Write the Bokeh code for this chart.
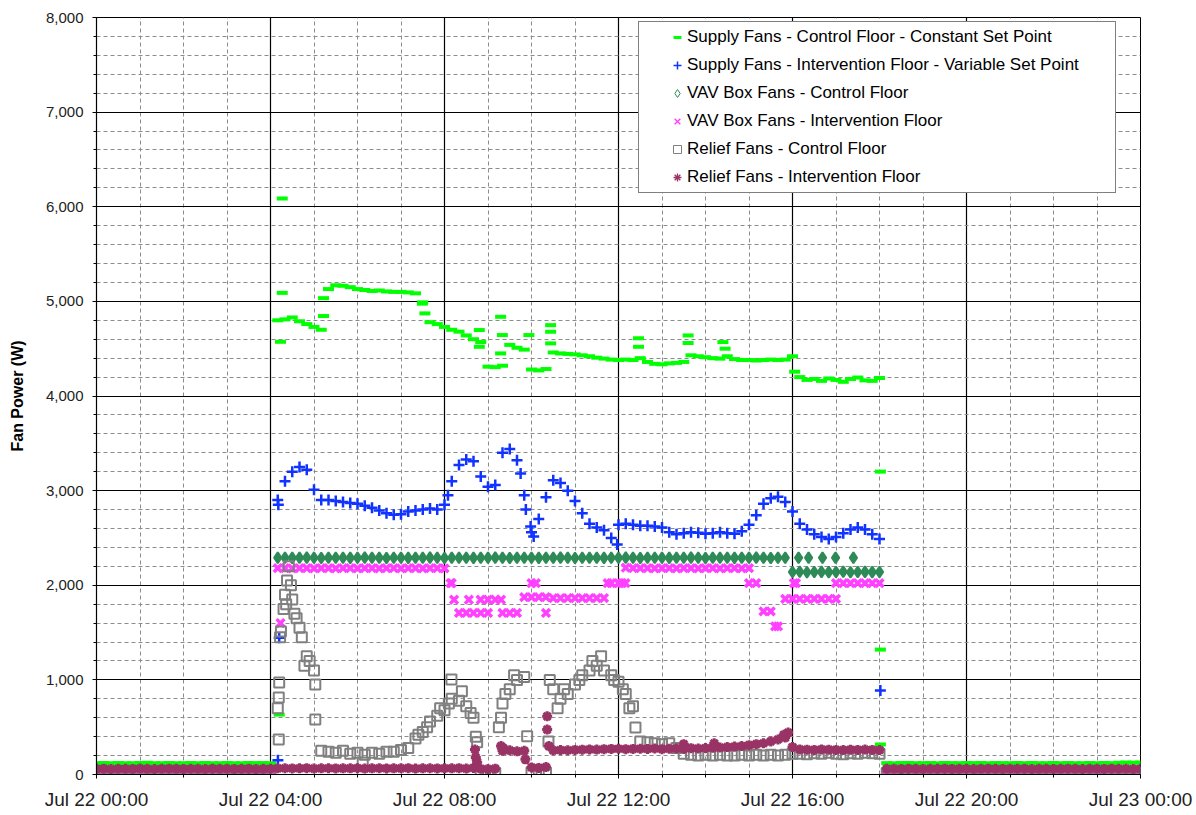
import pandas as pd
from bokeh.plotting import figure
from bokeh.models import (Range1d, FixedTicker, DatetimeTickFormatter, NumeralTickFormatter,
                          Legend, LegendItem, ColumnDataSource)
from bokeh.embed import file_html
from bokeh.resources import INLINE

# ---------------- data (W), read every 10 minutes, Jul 22 00:00 -> Jul 23 00:00 ----------------
DAY = "2008-07-22"
STEP_MIN = 10
X_TICK_HOURS = [0, 4, 8, 12, 16, 20, 24]
Y_TICKS = [0, 1000, 2000, 3000, 4000, 5000, 6000, 7000, 8000]

LABELS = [
    "Supply Fans - Control Floor - Constant Set Point",
    "Supply Fans - Intervention Floor - Variable Set Point",
    "VAV Box Fans - Control Floor",
    "VAV Box Fans - Intervention Floor",
    "Relief Fans - Control Floor",
    "Relief Fans - Intervention Floor",
]

# Supply Fans - Control Floor
supply_ctrl_am = [118, 121, 119, 122, 120, 118, 121, 123, 119, 120, 122, 118, 120, 121, 119, 122, 120, 118, 121, 120,
                  119, 122, 120, 121, 118]
supply_ctrl_day = [4800, 4810, 4830, 4790, 4760, 4730, 4700, 5130, 5170, 5165, 5150, 5130, 5120, 5110, 5115, 5105,
                   5100, 5100, 5095, 5085, 4990, 4780, 4760, 4730, 4700, 4680, 4640, 4600, 4570, 4310, 4305, 4320,
                   4540, 4510, 4490, 4280, 4270, 4285, 4460, 4450, 4445, 4440, 4430, 4420, 4405, 4395, 4385, 4380,
                   4385, 4380, 4400, 4360, 4340, 4335, 4345, 4350, 4360, 4430, 4420, 4410, 4400, 4395, 4420, 4390,
                   4380, 4380, 4375, 4380, 4385, 4380, 4385, 4420, 4200, 4170, 4180, 4160, 4185, 4170, 4150, 4180,
                   4195, 4165, 4160, 4190]
supply_ctrl_pm = [120, 118, 121, 122, 119, 120, 121, 118, 122, 120, 119, 121, 120, 122, 118, 121, 120, 119, 122, 120,
                  121, 118, 120, 122, 119, 121, 120, 118, 122, 120, 121, 119, 125, 128, 124, 126]
supply_ctrl_extra_h = [4.27, 4.27, 4.23, 4.2, 5.22, 5.22, 7.49, 7.55, 8.8, 8.8, 9.29, 9.33, 9.29, 9.94, 10.44, 10.44,
                       10.44, 12.46, 12.46, 13.6, 13.6, 14.4, 14.45, 16.05, 18.02, 18.02, 18.02]
supply_ctrl_extra_w = [6087, 5090, 4573, 633, 4845, 5034, 4976, 4873, 4697, 4520, 4837, 4644, 4450, 4644, 4749, 4679,
                       4556, 4610, 4520, 4640, 4560, 4570, 4500, 4257, 3201, 1320, 317]

# Supply Fans - Intervention Floor
supply_int_am = [32, 28, 30, 31, 29, 30, 33, 28, 30, 31, 29, 32, 30, 28, 31, 30, 29, 32, 30, 31, 28, 30, 29, 31, 30]
supply_int_day = [2900, 3100, 3200, 3250, 3220, 3010, 2900, 2900, 2890, 2880, 2870, 2860, 2840, 2820, 2790, 2760,
                  2745, 2750, 2780, 2790, 2800, 2810, 2800, 2850, 3100, 3270, 3330, 3310, 3150, 3040, 3060, 3400,
                  3440, 3320, 2950, 2560, 2700, 2930, 3110, 3080, 3000, 2890, 2760, 2650, 2610, 2580, 2500, 2640,
                  2650, 2640, 2630, 2630, 2620, 2610, 2560, 2540, 2550, 2560, 2555, 2545, 2550, 2560, 2550, 2545,
                  2570, 2640, 2740, 2860, 2920, 2935, 2880, 2780, 2650, 2590, 2540, 2510, 2490, 2510, 2550, 2590,
                  2610, 2590, 2540, 2490]
supply_int_pm = [30, 31, 29, 32, 30, 28, 31, 30, 29, 32, 30, 31, 28, 30, 29, 31, 30, 32, 28, 30, 31, 29, 30, 32,
                 28, 30, 31, 29, 30, 32, 30, 28, 31, 30, 29, 31]
supply_int_extra_h = [4.18, 4.2, 4.17, 18.02, 9.98, 10.05, 11.97, 8.08, 9.75, 9.87]
supply_int_extra_w = [2850, 1446, 150, 887, 2620, 2515, 2430, 2950, 3180, 2800]

# VAV Box Fans - Control Floor
vav_ctrl_am = [4, 5, 3, 4, 6, 5, 4, 3, 5, 4, 6, 4, 5, 3, 4, 5, 4, 6, 3, 5, 4, 4, 5, 3, 4]
vav_ctrl_day = [2290, 2291, 2289, 2290, 2292, 2290, 2288, 2290, 2291, 2290, 2289, 2290, 2292, 2290, 2290, 2288,
                2291, 2290, 2289, 2290, 2290, 2292, 2290, 2288, 2290, 2291, 2290, 2289, 2290, 2290, 2292, 2290,
                2288, 2290, 2291, 2290, 2289, 2290, 2290, 2292, 2290, 2288, 2290, 2291, 2290, 2289, 2290, 2290,
                2292, 2290, 2288, 2290, 2291, 2290, 2289, 2290, 2290, 2292, 2290, 2288, 2290, 2291, 2290, 2289,
                2290, 2290, 2292, 2290, 2288, 2290, 2291, 2140, 2142, 2138, 2140, 2141, 2139, 2140, 2142, 2138,
                2140, 2141, 2139, 2140]
vav_ctrl_pm = [5, 4, 3, 5, 4, 6, 4, 5, 3, 4, 5, 4, 6, 3, 5, 4, 4, 5, 3, 4, 5, 4, 6, 4, 5, 3, 4, 5, 4, 6, 3, 5,
               4, 4, 5, 3]
vav_ctrl_extra_h = [16.14, 16.37, 16.69, 16.99, 17.4]
vav_ctrl_extra_w = [2290, 2290, 2290, 2290, 2290]

# VAV Box Fans - Intervention Floor
vav_int_am = [0, 1, 0, 0, 1, 0, 0, 0, 1, 0, 0, 1, 0, 0, 0, 1, 0, 0, 1, 0, 0, 0, 1, 0, 0]
vav_int_day = [2180, 2182, 2178, 2180, 2181, 2179, 2180, 2182, 2178, 2180, 2181, 2179, 2180, 2182, 2178, 2180,
               2181, 2179, 2180, 2182, 2178, 2180, 2181, 2179, 2023, 1707, 1707, 1707, 1707, 1847, 1847, 1707,
               1707, 1707, 1875, 1875, 1875, 1707, 1865, 1865, 1865, 1865, 1865, 1865, 1865, 1865, 2023, 2023,
               2185, 2182, 2180, 2181, 2179, 2180, 2182, 2178, 2180, 2181, 2179, 2180, 2182, 2178, 2180, 2181,
               2179, 2180, 2023, 1724, 1724, 1565, 1855, 1855, 1855, 1855, 1855, 1855, 1855, 2023, 2023, 2023,
               2023, 2023, 2023, 2023]
vav_int_pm = [0, 0, 1, 0, 0, 1, 0, 0, 0, 1, 0, 0, 1, 0, 0, 0, 1, 0, 0, 1, 0, 0, 0, 1, 0, 0, 1, 0, 0, 0, 1, 0,
              0, 1, 0, 0]
vav_int_extra_h = [4.23, 8.22, 8.56, 8.83, 9.0, 9.3, 10.0, 10.1, 10.33, 11.75, 12.08, 12.16, 15.0, 15.6, 16.03,
                   16.08, 17.0, 8.14]
vav_int_extra_w = [1601, 1847, 1847, 1847, 1707, 1847, 2023, 2023, 1875, 2023, 2023, 2023, 2023, 1565, 2023,
                   2023, 1855, 2023]

# Relief Fans - Control Floor
relief_ctrl_am = [15, 18, 14, 16, 15, 17, 13, 15, 16, 14, 18, 15, 16, 14, 15, 17, 15, 13, 16, 15, 14, 17, 15, 16, 15]
relief_ctrl_day = [700, 1900, 1850, 1550, 1250, 1100, 250, 240, 230, 250, 220, 230, 210, 230, 220, 240,
                   240, 260, 280, 380, 450, 560, 620, 680, 800, 780, 720, 600, 20, 10, 15, 750,
                   900, 1000, 1030, 20, 15, 20, 900, 800, 850, 950, 1050, 1100, 1150, 1100, 1050, 980,
                   850, 720, 350, 340, 330, 320, 330, 280, 220, 210, 200, 210, 200, 210, 200, 200,
                   210, 200, 210, 200, 210, 200, 210, 220, 220, 215, 225, 220, 230, 220, 215, 225,
                   220, 230, 225, 220]
relief_ctrl_pm = [16, 15, 14, 17, 15, 16, 13, 15, 18, 14, 15, 16, 15, 17, 14, 15, 16, 15, 13, 17, 15, 14, 16, 15,
                  18, 15, 14, 16, 15, 17, 15, 14, 16, 15, 17, 15]
relief_ctrl_extra_h = [4.19, 4.19, 4.2, 4.22, 4.24, 4.3, 4.38, 4.42, 4.36, 4.47, 4.55, 4.6, 4.72, 4.78, 4.9, 5.03,
                       5.03, 6.12, 8.16, 8.72, 8.75, 9.25, 9.3, 9.4, 9.6, 9.9, 10.39, 10.42, 10.6, 10.75, 11.1,
                       11.4, 11.6, 11.9, 12.1, 12.39, 12.25, 7.4, 7.6, 7.9, 8.1, 8.4, 8.6]
relief_ctrl_extra_w = [369, 813, 971, 1450, 1512, 1750, 2050, 2200, 1800, 2000, 1700, 1650, 1450, 1150, 1200, 950,
                       580, 127, 1003, 400, 340, 500, 600, 850, 1050, 404, 348, 1000, 700, 900, 1000,
                       1200, 1250, 1000, 900, 496, 700, 420, 500, 700, 750, 880, 650]

# Relief Fans - Intervention Floor
relief_int_am = [60, 62, 58, 61, 60, 59, 63, 60, 58, 61, 62, 60, 59, 61, 60, 58, 62, 60, 61, 59, 60, 62, 58, 60, 61]
relief_int_day = [65, 66, 64, 65, 67, 63, 65, 66, 64, 65, 65, 67, 63, 65, 66, 64, 65, 65, 67, 63, 65, 66, 64, 65,
                  65, 67, 63, 70, 60, 58, 62, 250, 255, 245, 250, 75, 70, 78, 255, 258, 256, 260, 262, 265,
                  263, 268, 270, 272, 268, 270, 272, 270, 275, 268, 272, 275, 270, 278, 275, 280, 282, 285,
                  290, 295, 300, 310, 320, 330, 350, 370, 390, 290, 265, 262, 260, 265, 262, 260, 258, 262,
                  260, 263, 260, 258]
relief_int_pm = [60, 61, 59, 62, 60, 58, 61, 60, 62, 59, 60, 61, 58, 60, 62, 60, 59, 61, 60, 62, 58, 60, 61, 59,
                 60, 62, 60, 58, 61, 60, 59, 62, 60, 61, 58, 60]
relief_int_extra_h = [8.7, 8.72, 8.75, 9.3, 9.35, 9.86, 10.36, 10.36, 10.4, 15.9, 15.8, 13.5, 14.2]
relief_int_extra_w = [264, 180, 130, 300, 280, 160, 615, 475, 300, 443, 420, 320, 330]

# ---------------- build ----------------
t0 = pd.Timestamp(DAY)


def make_source(am, day, pm, eh, ew):
    vals = am + day + pm
    times = [t0 + pd.Timedelta(minutes=STEP_MIN * i) for i in range(len(vals))]
    times += [t0 + pd.Timedelta(hours=h) for h in eh]
    return ColumnDataSource(dict(t=times, w=vals + ew))


series = [
    (supply_ctrl_am, supply_ctrl_day, supply_ctrl_pm, supply_ctrl_extra_h, supply_ctrl_extra_w),
    (supply_int_am, supply_int_day, supply_int_pm, supply_int_extra_h, supply_int_extra_w),
    (vav_ctrl_am, vav_ctrl_day, vav_ctrl_pm, vav_ctrl_extra_h, vav_ctrl_extra_w),
    (vav_int_am, vav_int_day, vav_int_pm, vav_int_extra_h, vav_int_extra_w),
    (relief_ctrl_am, relief_ctrl_day, relief_ctrl_pm, relief_ctrl_extra_h, relief_ctrl_extra_w),
    (relief_int_am, relief_int_day, relief_int_pm, relief_int_extra_h, relief_int_extra_w),
]

COLORS = ["#00FF00", "#1133FF", "#2E8B57", "#FF40FF", "#808080", "#993366"]
MARKERS = ["dash", "cross", "diamond", "x", "square", "asterisk"]
# plotted marks (dense, overlapping like the original 1-minute data)
plot_styles = [
    dict(size=11, line_width=4),
    dict(size=11, line_width=2.5),
    dict(size=11, line_width=2, fill_color="#2E8B57"),
    dict(size=11, line_width=3.5),
    dict(size=10, line_width=2, fill_color=None),
    dict(size=10, line_width=3),
]
# legend swatches (thin, small, like the original key)
legend_styles = [
    dict(line_width=3),
    dict(line_width=1.5),
    dict(line_width=1, fill_color=None),
    dict(line_width=1.5),
    dict(line_width=1, fill_color=None),
    dict(line_width=1.3),
]

x_start = t0
x_end = t0 + pd.Timedelta(hours=24)

p = figure(width=1192, height=812, x_axis_type="datetime", output_backend="svg", toolbar_location=None,
           x_range=Range1d(x_start, x_end), y_range=Range1d(0, 8000),
           min_border_left=96, min_border_right=52, min_border_top=17, min_border_bottom=37)
p.background_fill_color = "white"
p.border_fill_color = "white"
p.outline_line_color = "black"
p.outline_line_width = 1

ms = lambda h: (t0 + pd.Timedelta(hours=h)).value / 1e6
x_ticker = FixedTicker(ticks=[ms(h) for h in X_TICK_HOURS],
                       minor_ticks=[ms(h) for h in range(25) if h % 4 != 0])
y_ticker = FixedTicker(ticks=Y_TICKS, minor_ticks=[v for v in range(0, 8001, 200) if v % 1000 != 0])

p.xaxis.ticker = x_ticker
p.yaxis.ticker = y_ticker
p.xgrid.ticker = x_ticker
p.ygrid.ticker = y_ticker
fmt = "%b %d %H:%M"
p.xaxis.formatter = DatetimeTickFormatter(hours=fmt, hourmin=fmt, days=fmt, minutes=fmt, months=fmt,
                                          minsec=fmt, seconds=fmt)
p.yaxis.formatter = NumeralTickFormatter(format="0,0")

for g in (p.xgrid, p.ygrid):
    g.grid_line_color = "black"
    g.grid_line_width = 1.2
    g.minor_grid_line_color = "#8c8c8c"
    g.minor_grid_line_dash = "4 3"
    g.minor_grid_line_width = 1

for ax in (p.xaxis, p.yaxis):
    ax.axis_line_color = "black"
    ax.axis_line_width = 1.2
    ax.major_tick_line_color = "black"
    ax.minor_tick_line_color = "black"
    ax.major_tick_out = 4
    ax.major_tick_in = 0
    ax.minor_tick_out = 3
    ax.minor_tick_in = 0
    ax.major_label_text_font = "Liberation Sans"
    ax.major_label_text_color = "#222222"

p.xaxis.major_label_text_font_size = "19px"
p.yaxis.major_label_text_font_size = "15px"
p.xaxis.major_label_standoff = 10
p.yaxis.major_label_standoff = 9
p.yaxis.axis_label = "Fan Power (W)"
p.yaxis.axis_label_text_font = "Liberation Sans"
p.yaxis.axis_label_text_font_size = "16px"
p.yaxis.axis_label_text_font_style = "bold"
p.yaxis.axis_label_text_color = "black"
p.yaxis.axis_label_standoff = 17

items = []
for (am, day, pm, eh, ew), col, mk, pst, lst, lab in zip(series, COLORS, MARKERS, plot_styles, legend_styles, LABELS):
    src = make_source(am, day, pm, eh, ew)
    p.scatter(x="t", y="w", source=src, marker=mk, line_color=col, **pst)
    # hidden twin of the same data, used only to draw the thin legend swatch
    key = p.scatter(x="t", y="w", source=src, marker=mk, line_color=col, visible=False, **lst)
    items.append(LegendItem(label=lab, renderers=[key]))

legend = Legend(items=items, location=(542, 581), padding=5, spacing=8, margin=0,
                title="\u00a0", title_location="left", title_standoff=7,
                title_text_font="Liberation Sans", title_text_font_size="14px",
                glyph_width=20, glyph_height=20, label_height=20, label_standoff=0, label_width=423,
                label_text_font="Liberation Sans", label_text_font_size="17px", label_text_color="black",
                inactive_fill_alpha=0,
                border_line_color="black", border_line_width=1, background_fill_color="white",
                background_fill_alpha=1)
p.add_layout(legend)

open("out.html", "w").write(file_html(p, INLINE))
